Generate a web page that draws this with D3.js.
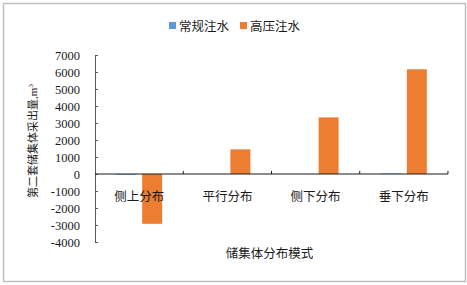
<!DOCTYPE html>
<html lang="zh">
<head>
    <meta charset="UTF-8">
    <title>储集体分布模式</title>
    <script src="https://d3js.org/d3.v7.min.js"></script>
    <style>
        body { margin: 0; background: #fff; }
        svg text { font-family: "Liberation Serif", "Noto Sans CJK SC", serif; fill: #1a1a1a; }
    </style>
</head>
<body>
    <svg></svg>
    <script>
        // data
        const categories = ['侧上分布', '平行分布', '侧下分布', '垂下分布'];
        const seriesNames = ['常规注水', '高压注水'];
        const normalWater = [-40, 0, 0, 30];
        const highPressure = [-2930, 1450, 3330, 6160];
        const yTicks = [-4000, -3000, -2000, -1000, 0, 1000, 2000, 3000, 4000, 5000, 6000, 7000];
        const colors = ['#5B9BD5', '#ED7D31'];

        const svgWidth = 467;
        const svgHeight = 285;
        const plot = { left: 95, right: 448, top: 55, bottom: 242 };

        const svg = d3.select('svg')
            .attr('width', svgWidth)
            .attr('height', svgHeight);

        // outer frame
        svg.append('rect')
            .attr('x', 3.5).attr('y', 3.5)
            .attr('width', 462).attr('height', 278)
            .attr('fill', '#fff')
            .attr('stroke', '#bfbfbf')
            .attr('stroke-width', 1.5);

        const x = d3.scaleBand()
            .domain(categories)
            .range([plot.left, plot.right])
            .paddingInner(0.479)
            .paddingOuter(0.24);

        const xs = d3.scaleBand()
            .domain(seriesNames)
            .range([0, x.bandwidth()])
            .paddingInner(0.231);

        const y = d3.scaleLinear()
            .domain([-4000, 7000])
            .range([plot.bottom, plot.top]);

        const rows = categories.map((c, i) => ({
            cat: c,
            values: [normalWater[i], highPressure[i]]
        }));

        // bars
        const groups = svg.append('g').selectAll('g')
            .data(rows)
            .join('g')
            .attr('transform', d => `translate(${x(d.cat)},0)`);

        groups.selectAll('rect')
            .data(d => d.values.map((v, k) => ({ name: seriesNames[k], value: v, k: k })))
            .join('rect')
            .attr('x', d => xs(d.name))
            .attr('width', xs.bandwidth())
            .attr('y', d => y(Math.max(0, d.value)))
            .attr('height', d => Math.abs(y(d.value) - y(0)))
            .attr('fill', d => colors[d.k]);

        // y axis, ticks pointing inside
        const yAxis = svg.append('g')
            .attr('transform', `translate(${plot.left},0)`)
            .call(d3.axisLeft(y).tickValues(yTicks).tickSizeInner(-3).tickSizeOuter(0)
                .tickPadding(15).tickFormat(d => String(d)));
        yAxis.select('.domain').attr('stroke', '#595959');
        yAxis.selectAll('.tick line').attr('stroke', '#595959');
        yAxis.selectAll('.tick text')
            .style('font-size', '12.5px');

        // x axis at zero, boundary ticks pointing up
        const xAxisG = svg.append('g');
        xAxisG.append('line')
            .attr('x1', plot.left).attr('x2', plot.right)
            .attr('y1', y(0)).attr('y2', y(0))
            .attr('stroke', '#1a1a1a').attr('stroke-width', 1.2);
        xAxisG.selectAll('line.bt')
            .data(categories)
            .join('line')
            .attr('class', 'bt')
            .attr('x1', d => x(d) + x.bandwidth() / 2 + x.step() / 2)
            .attr('x2', d => x(d) + x.bandwidth() / 2 + x.step() / 2)
            .attr('y1', y(0)).attr('y2', y(0) - 3)
            .attr('stroke', '#1a1a1a');
        xAxisG.selectAll('text')
            .data(categories)
            .join('text')
            .attr('x', d => x(d) + x.bandwidth() / 2)
            .attr('y', y(0) + 27)
            .attr('text-anchor', 'middle')
            .style('font-size', '12.5px')
            .text(d => d);

        // axis titles
        svg.append('text')
            .attr('x', (plot.left + plot.right) / 2 - 2)
            .attr('y', 258)
            .attr('text-anchor', 'middle')
            .style('font-size', '12.5px')
            .text('储集体分布模式');

        svg.append('text')
            .attr('transform', `translate(37,141) rotate(-90)`)
            .attr('text-anchor', 'middle')
            .style('font-size', '11px')
            .html('第二套储集体采出量,m<tspan dy="-4" style="font-size:7px">3</tspan>');

        // legend
        const legend = svg.append('g').attr('transform', 'translate(169,26)');
        const legendX = [0, 71];
        const items = legend.selectAll('g')
            .data(seriesNames)
            .join('g')
            .attr('transform', (d, i) => `translate(${legendX[i]},0)`);
        items.append('rect')
            .attr('x', 0).attr('y', -4)
            .attr('width', 7).attr('height', 7)
            .attr('fill', (d, i) => colors[i]);
        items.append('text')
            .attr('x', 10).attr('y', 4.5)
            .style('font-size', '12.5px')
            .text(d => d);
    </script>
</body>
</html>
